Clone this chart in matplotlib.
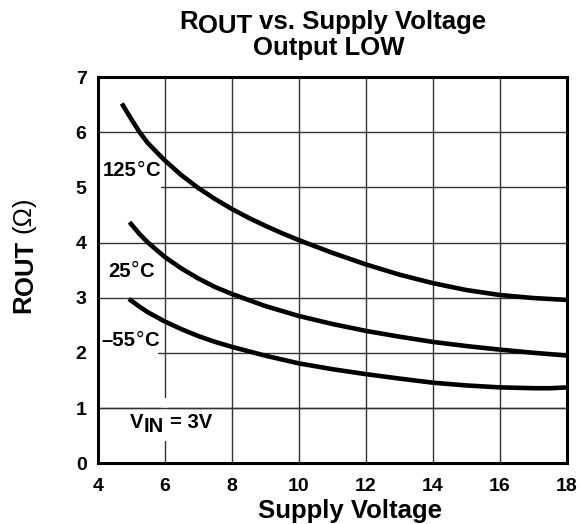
import matplotlib
matplotlib.use('Agg')
import matplotlib.pyplot as plt
from matplotlib.patches import Rectangle
from matplotlib.transforms import IdentityTransform

plt.rcParams['font.family'] = ['Liberation Sans', 'DejaVu Sans']

# ---- data ----
x_ticks = [4, 6, 8, 10, 12, 14, 16, 18]
y_ticks = [0, 1, 2, 3, 4, 5, 6, 7]

v_125 = [4.72, 5.0, 5.25, 5.5, 6.0, 6.5, 7.0, 7.5, 8.0, 8.5, 9.0, 9.5, 10.0, 11.0, 12.0, 13.0, 14.0, 15.0, 16.0, 17.0, 18.0]
r_125 = [6.52, 6.24, 6.00, 5.80, 5.49, 5.22, 4.99, 4.79, 4.61, 4.45, 4.305, 4.17, 4.045, 3.815, 3.605, 3.42, 3.265, 3.14, 3.05, 2.995, 2.96]

v_25 = [4.95, 5.25, 5.5, 6.0, 6.5, 7.0, 7.5, 8.0, 9.0, 10.0, 11.0, 12.0, 13.0, 14.0, 15.0, 16.0, 17.0, 18.0]
r_25 = [4.37, 4.154, 4.0, 3.74, 3.53, 3.35, 3.195, 3.07, 2.85, 2.67, 2.525, 2.40, 2.295, 2.20, 2.125, 2.06, 2.003, 1.953]

v_m55 = [4.93, 5.25, 5.5, 6.0, 6.5, 7.0, 7.5, 8.0, 9.0, 10.0, 11.0, 12.0, 13.0, 14.0, 15.0, 16.0, 17.0, 17.5, 18.0]
r_m55 = [2.98, 2.836, 2.736, 2.571, 2.431, 2.306, 2.201, 2.111, 1.951, 1.811, 1.706, 1.616, 1.536, 1.461, 1.411, 1.376, 1.361, 1.36, 1.375]

curve_labels = [('125', 'C'), ('25', 'C'), ('\u201355', 'C')]
label_pos = [(4.15, 5.2), (4.32, 3.38), (4.12, 2.12)]

W, H = 587, 524
fig = plt.figure(figsize=(W / 100, H / 100), dpi=100)
ax = fig.add_axes([97.7 / W, 1 - 463.3 / H, (566.7 - 97.7) / W, (463.3 - 77) / H])
ax.set_xlim(4, 18)
ax.set_ylim(0, 7)
ax.set_xticks(x_ticks)
ax.set_yticks(y_ticks)
ax.set_xticklabels([str(t) for t in x_ticks], fontweight='bold', fontsize=14)
ax.set_yticklabels([str(t) for t in y_ticks], fontweight='bold', fontsize=14)
ax.tick_params(axis='x', length=0, pad=10.5)
ax.tick_params(axis='y', length=0, pad=8)
ax.set_axisbelow(True)
ax.grid(True, color='#333333', lw=1.0)
for s in ax.spines.values():
    s.set_linewidth(2.2)
    s.set_zorder(5)

# gaps in grid behind labels
ax.add_patch(Rectangle((4.0, 4.9), 1.9, 0.2, fc='white', ec='none', zorder=1))
ax.add_patch(Rectangle((4.0, 1.9), 1.81, 0.2, fc='white', ec='none', zorder=1))
ax.add_patch(Rectangle((5.9, 0.40), 0.2, 0.78, fc='white', ec='none', zorder=1))
ax.axhline(1, color='#333333', lw=1.0, zorder=1.1)

for vx, ry in [(v_125, r_125), (v_25, r_25), (v_m55, r_m55)]:
    ax.plot(vx, ry, color='black', lw=3.3, zorder=3, solid_capstyle='butt',
            solid_joinstyle='round')

renderer = fig.canvas.get_renderer()


def text_w(s, **kw):
    t = fig.text(0, 0, s, transform=IdentityTransform(), **kw)
    w = t.get_window_extent(renderer).width
    t.remove()
    return w


def row(parts, x, y, align='left', rotation=0, zorder=4):
    widths = []
    for s, drop, kw in parts:
        widths.append(drop if s is None else text_w(s, **kw))
    total = sum(widths)
    along = x if rotation == 0 else y
    pos = along - total / 2 if align == 'center' else along
    for (s, drop, kw), w in zip(parts, widths):
        if s is not None:
            if rotation == 0:
                fig.text(pos, y - drop, s, transform=IdentityTransform(),
                         ha='left', va='baseline', zorder=zorder, **kw)
            else:
                fig.text(x + drop, pos, s, transform=IdentityTransform(),
                         rotation=90, rotation_mode='anchor',
                         ha='left', va='baseline', zorder=zorder, **kw)
        pos += w


big = dict(fontsize=18.5, fontweight='bold')
sp_big = text_w('a a', **big) - text_w('aa', **big)

# Title
row([('R', 0, big), ('OUT', 4, big), (None, sp_big, None),
     ('vs. Supply Voltage', 0, big)], 332.5, H - 29, align='center')
fig.text(329, H - 55, 'Output LOW', transform=IdentityTransform(),
         ha='center', va='baseline', **big)

# x label
fig.text(350, H - 518, 'Supply Voltage', transform=IdentityTransform(),
         ha='center', va='baseline', **big)

# y label
norm_big = dict(fontsize=18.5)
row([('R', 0, big), ('OUT', 3, big), (None, sp_big, None),
     ('(\u03a9)', 0, norm_big)], 30.5, H - 255, align='center', rotation=90)

# curve labels (thin degree ring)
bold14 = dict(fontsize=14.6, fontweight='bold')
deg = dict(fontsize=15.5, fontweight='normal')
for (num, unit), (lx, ly) in zip(curve_labels, label_pos):
    px, py = ax.transData.transform((lx, ly))
    row([(num, 0, bold14), ('\u00b0', 0, deg), (unit, 0, bold14)], px, py)

# V_IN = 3V
sp14 = text_w('a a', **bold14) - text_w('aa', **bold14)
px, py = ax.transData.transform((4.97, 0.645))
row([('V', 0, bold14), ('IN', 4, bold14), (None, sp14, None), ('= 3V', 0, bold14)], px, py)

fig.savefig('out.png', dpi=100)
